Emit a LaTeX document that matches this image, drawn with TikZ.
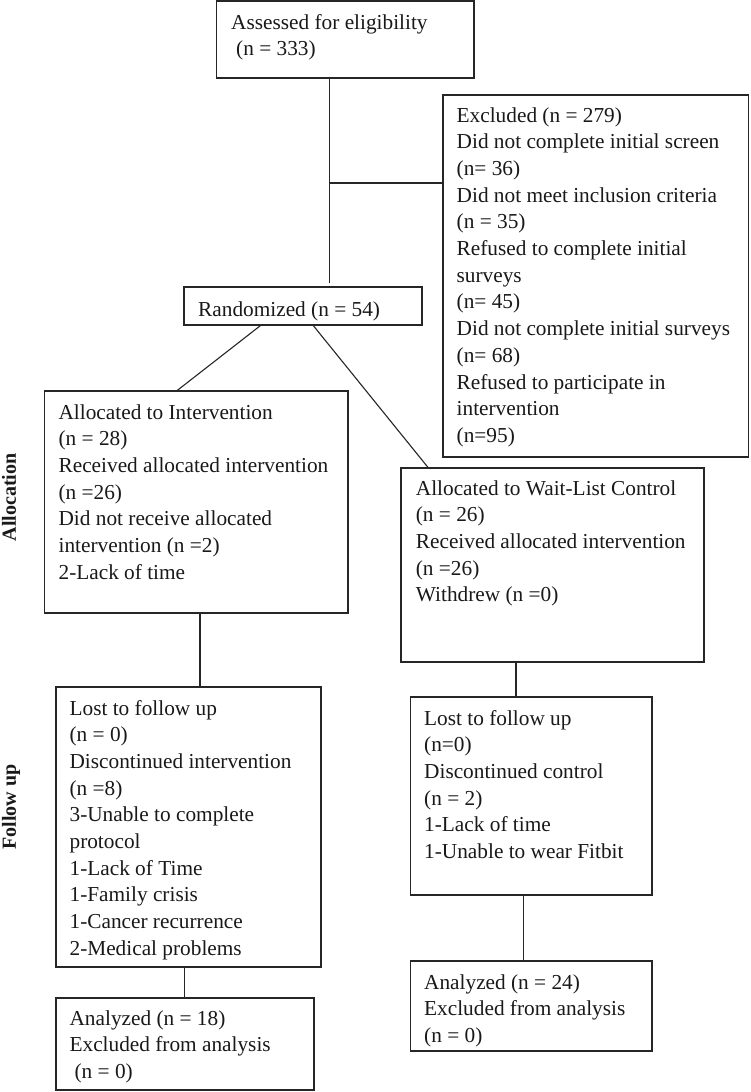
\documentclass[tikz,border=0pt]{standalone}
\usepackage{fontspec}
\setmainfont{Liberation Serif}
\usetikzlibrary{calc}
\begin{document}
\begin{tikzpicture}[x=1pt,y=-1pt,
  box/.style={draw=black!85, line width=1.3pt, rectangle, inner sep=0pt, fill=none},
  txt/.style={anchor=base west, inner sep=0pt, text=black!90, font=\fontsize{21.3}{26.7}\selectfont},
  sidelab/.style={rotate=90, anchor=base, inner sep=0pt, text=black!90, font=\fontsize{20}{24}\selectfont\bfseries},
  conn/.style={draw=black!85, line width=1.1pt}]
\useasboundingbox[fill=white] (0,0) rectangle (750,1092);
% boxes
\node[box, minimum width=257.5pt, minimum height=77pt] (b1)  at (345.25,39.5) {};
\node[box, minimum width=305.5pt, minimum height=362pt] (ex) at (595.75,276) {};
\node[box, minimum width=238pt, minimum height=38pt] (rnd)   at (303,306) {};
\node[box, minimum width=303.5pt, minimum height=222pt] (ai) at (196.25,502) {};
\node[box, minimum width=303pt, minimum height=194pt] (aw)  at (552.5,565) {};
\node[box, minimum width=265pt, minimum height=280pt] (fi)  at (188.5,827) {};
\node[box, minimum width=241.5pt, minimum height=198pt] (fw) at (531.25,796) {};
\node[box, minimum width=258pt, minimum height=92pt] (ani)  at (185,1044) {};
\node[box, minimum width=241.5pt, minimum height=90pt] (anw) at (531.25,1006) {};
% texts
\node[txt] (t-b1) at (231,29) {\parbox[t]{240pt}{Assessed for eligibility\\\hspace*{5pt}(n = 333)}};
\node[txt] (t-ex) at (456.5,122) {\parbox[t]{290pt}{Excluded (n = 279)\\Did not complete initial screen\\(n= 36)\\Did not meet inclusion criteria\\(n = 35)\\Refused to complete initial\\surveys\\(n= 45)\\Did not complete initial surveys\\(n= 68)\\Refused to participate in\\intervention\\(n=95)}};
\node[txt] (t-rnd) at (198,316) {Randomized (n = 54)};
\node[txt] (t-ai) at (58.4,419) {\parbox[t]{290pt}{Allocated to Intervention\\(n = 28)\\Received allocated intervention\\(n =26)\\Did not receive allocated\\intervention (n =2)\\2-Lack of time}};
\node[txt] (t-aw) at (415.7,495) {\parbox[t]{290pt}{Allocated to Wait-List Control\\(n = 26)\\Received allocated intervention\\(n =26)\\Withdrew (n =0)}};
\node[txt] (t-fi) at (69.4,715) {\parbox[t]{250pt}{Lost to follow up\\(n = 0)\\Discontinued intervention\\(n =8)\\3-Unable to complete\\protocol\\1-Lack of Time\\1-Family crisis\\1-Cancer recurrence\\2-Medical problems}};
\node[txt] (t-fw) at (424,725) {\parbox[t]{230pt}{Lost to follow up\\(n=0)\\Discontinued control\\(n = 2)\\1-Lack of time\\1-Unable to wear Fitbit}};
\node[txt] (t-ani) at (69.4,1025) {\parbox[t]{240pt}{Analyzed (n = 18)\\Excluded from analysis\\\hspace*{5pt}(n = 0)}};
\node[txt] (t-anw) at (424,989) {\parbox[t]{230pt}{Analyzed (n = 24)\\Excluded from analysis\\(n = 0)}};
% side labels
\node[sidelab] (l-alloc) at (16,497.5) {Allocation};
\node[sidelab] (l-fu) at (16,807) {Follow up};
% connector x positions
\coordinate (c1) at (329.5,0);
\coordinate (c2) at (200,0);
\coordinate (c3) at (516,0);
\coordinate (c4) at (184.4,0);
\coordinate (c5) at (523.5,0);
\coordinate (c6) at (0,183);
% connectors
\draw[conn, shorten >=3.5pt] (b1.south -| c1) -- (rnd.north -| c1);
\draw[conn] (c6 -| c1) -- (c6 -| ex.west);
\draw[conn] ($(rnd.south west)+(77,0)$) -- ($(ai.north west)+(133.5,0)$);
\draw[conn] ($(rnd.south west)+(130,0)$) -- ($(aw.north west)+(27.6,0)$);
\draw[conn] (ai.south -| c2) -- (fi.north -| c2);
\draw[conn] (aw.south -| c3) -- (fw.north -| c3);
\draw[conn] (fi.south -| c4) -- (ani.north -| c4);
\draw[conn] (fw.south -| c5) -- (anw.north -| c5);
\end{tikzpicture}
\end{document}
